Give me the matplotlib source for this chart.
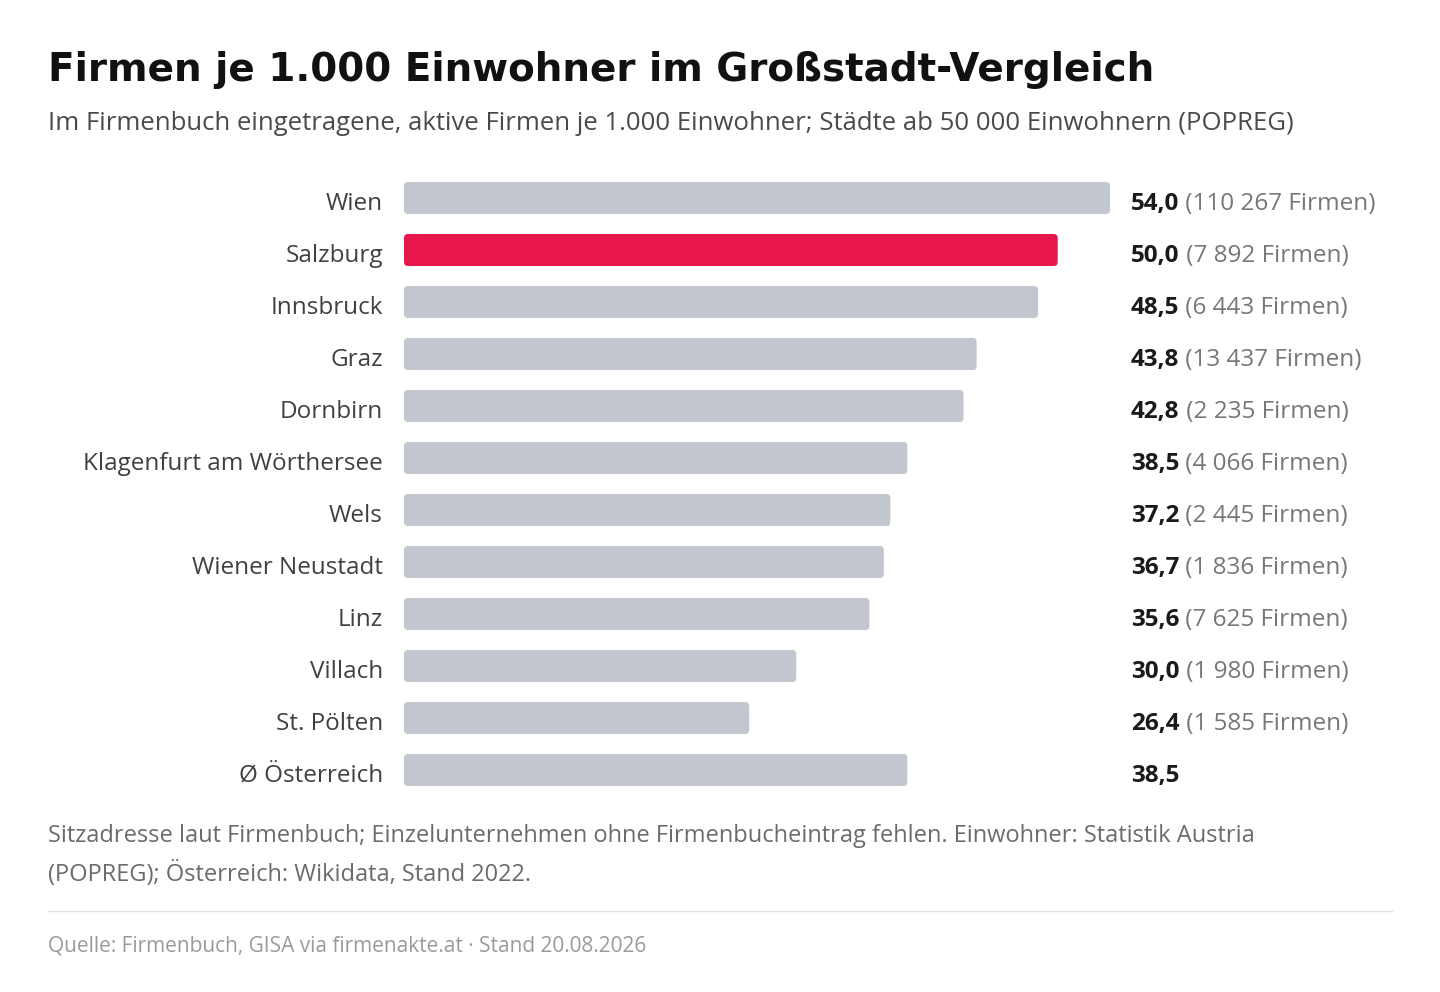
import matplotlib.pyplot as plt
from matplotlib.patches import FancyBboxPatch
from matplotlib.lines import Line2D

plt.rcParams['font.family'] = ['Open Sans', 'DejaVu Sans']

cities = ["Wien", "Salzburg", "Innsbruck", "Graz", "Dornbirn", "Klagenfurt am Wörthersee",
          "Wels", "Wiener Neustadt", "Linz", "Villach", "St. Pölten", "Ø Österreich"]
values = [54.0, 50.0, 48.5, 43.8, 42.8, 38.5, 37.2, 36.7, 35.6, 30.0, 26.4, 38.5]
firms = ["110 267", "7 892", "6 443", "13 437", "2 235", "4 066", "2 445", "1 836",
         "7 625", "1 980", "1 585", None]
highlight = "Salzburg"

W, H = 1440, 992
fig = plt.figure(figsize=(14.4, 9.92), dpi=100)
ax = fig.add_axes([404 / W, 1 - 796 / H, 706 / W, 624 / H])
ax.set_xlim(0, 54)
ax.set_ylim(len(cities) - 0.5, -0.5)
ax.axis("off")

xpp = 54 / 706
ypp = 12 / 624
bh = 32 * ypp
for i, (c, v, f) in enumerate(zip(cities, values, firms)):
    col = "#e8174b" if c == highlight else "#c2c7cf"
    ax.add_patch(FancyBboxPatch((0, i - bh / 2), v, bh,
                                boxstyle="round,pad=0,rounding_size=%f" % (4 * xpp),
                                mutation_aspect=ypp / xpp, fc=col, ec="none"))
    ax.text(-21 * xpp, i + 3 * ypp, c, ha="right", va="center_baseline", fontsize=17.5, color="#404040")
    val = ("%.1f" % v).replace(".", ",")
    t = ax.text(54 + 21 * xpp, i + 3 * ypp, val, ha="left", va="center_baseline", fontsize=17.5,
                fontweight="bold", color="#1a1a1a")
    if f:
        ax.annotate(" (%s Firmen)" % f, xy=(1, 0), xycoords=t, va="bottom",
                    fontsize=17.5, color="#777777")

fig.text(48 / W, 1 - 70 / H, "Firmen je 1.000 Einwohner im Großstadt-Vergleich",
         family="DejaVu Sans", fontweight="bold", fontsize=28, color="#111111", va="center")
fig.text(48 / W, 1 - 123 / H,
         "Im Firmenbuch eingetragene, aktive Firmen je 1.000 Einwohner; Städte ab 50 000 Einwohnern (POPREG)",
         fontsize=18.5, color="#4a4a4a", va="center")
fig.text(48 / W, 1 - 836 / H,
         "Sitzadresse laut Firmenbuch; Einzelunternehmen ohne Firmenbucheintrag fehlen. Einwohner: Statistik Austria",
         fontsize=17, color="#6b6b6b", va="center")
fig.text(48 / W, 1 - 874 / H, "(POPREG); Österreich: Wikidata, Stand 2022.",
         fontsize=17, color="#6b6b6b", va="center")
fig.add_artist(Line2D([48 / W, 1392 / W], [1 - 911 / H] * 2, color="#e2e2e2", lw=1))
fig.text(48 / W, 1 - 946 / H, "Quelle: Firmenbuch, GISA via firmenakte.at · Stand 20.08.2026",
         fontsize=15, color="#9a9a9a", va="center")

fig.savefig("out.png", dpi=100, facecolor="white")
